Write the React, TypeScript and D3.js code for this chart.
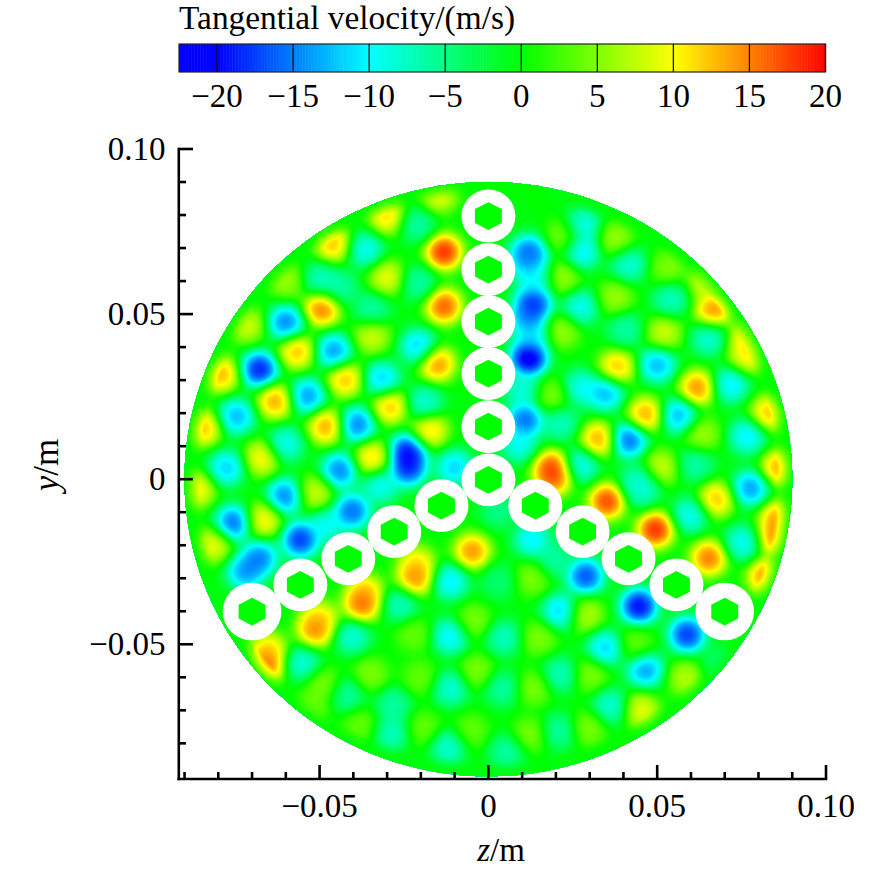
import React, { useMemo } from "react";
import * as d3 from "d3";

// Sampled extrema of the field: [z (mm), y (mm), velocity (m/s)]
const upperLeft: [number, number, number][] = [
  [-14.7,86,9],[-30,79.6,11],[-21.1,77.1,-6],[-13.2,68.8,18],[-45.9,71.1,12],[-36.5,69.5,-9],[-30,61,9],[-49.8,60.4,-7],[-43.9,57.9,-6],[-20.7,59.4,-6],[-59.7,60,6],[-49.3,51.7,15],[-13.2,52.4,16],[-34.5,51.4,-6],[-71.5,46.6,8],[-59.9,47.3,-14],[-34.5,43.3,8],[-20.7,40.2,-11],[-15.2,34.9,14],[-56.7,38.7,12],[-45.8,38.7,-13],[-67.8,33.2,-18],[-79.2,31.7,12.5],[-42.4,30.2,12],[-31.5,30.2,-11],[-63.1,23.6,13],[-53.6,25.1,-13],[-29.1,22.1,12],[-18.9,23.1,-8],[-74.7,19,-12],[-84.4,15.5,12],[-48.1,16,13],[-38.9,16.5,-14],[-17.4,14.8,11],[-60.2,10.5,-9],[-67.1,6.4,10],[-77.5,3.4,-11],[-34.5,6.4,11],[-23.8,8.4,-18],[-23.8,3.4,-17],[-44.1,2.6,-14],[-10,3.5,-11],
];
const lowerLeft: [number, number, number][] = [
  [-86.4,-3.2,10],[-60.2,-5.2,-14],[-51.3,-4.2,8],[-40.4,-9.7,-15],[-75.5,-13.3,-15],[-66.6,-12.3,10],[-55.7,-18.3,-17],[-81.4,-19.9,9],[-67.8,-23.9,-14],[-72,-28.1,-13],[-4.8,-21.9,14],[-21.6,-30,14],[-21.2,-25.4,10],[-11.3,-31,-10],[-37.5,-38,15],[-36.5,-34,11],[-26.1,-38,-7],[-51.3,-45.6,14],[-49.8,-42.1,10],[-40.4,-47.6,-8],[-11.3,-47.6,-10],[-65.1,-51.7,11],[-65.8,-56.7,15],[-55.2,-55.7,-8],[-22.1,-47.1,4],[-41.9,-65.3,-6],[-11.3,-63.3,-8],[-28.1,-68.3,-6],[-28.6,-76.9,-7],[-11.8,-81,-8],[-38,-74.4,4],[-20.2,-60.2,4],[-5.3,-76.4,4],[-3.4,-58.2,5],[-35,-59.2,5],[-48.8,-62.3,5],[-19.2,-75.4,4],[-52.3,-69.3,4],[-4.4,-43.1,5],[-48,-14,-9],[-32,-2,-9],
];
const upperRight: [number, number, number][] = [
  [12,68.5,-15],[12,65,-10],[13.4,53.4,-17],[12,48.8,-13],[12,36.7,-21],[11,18,-15],[9,10.5,-9],[22.3,73.6,5],[27.8,76.6,-9],[27.8,69,-10],[37.6,72.6,6],[21.8,61,6],[41.6,65,-8],[53,64,5],[37.6,55,6],[27.3,52,-9],[54,54.4,-7],[64.3,59.4,8],[66.6,51,14],[21.8,44.8,6],[40.6,45.3,-6],[52,44.3,8],[65.3,42.8,-8],[76.2,42.8,10],[76.7,37.2,10],[38.1,33.9,12],[50,34.7,-12],[61.9,27.6,14],[71.7,28.6,-10],[18.9,25.1,5],[27.3,27.6,-9],[34.7,26.1,-12],[83.1,20,12],[46.5,19.5,13],[56.4,19.3,-12],[21.3,17,-7],[32.5,12,13],[41.6,12,-15],[76.7,13,-10],[63.3,13.5,6],[18.9,3.4,16],[19.4,0.4,14],[27.3,4.4,-9],[61.4,4.4,-6],[51,3.4,8],[86.1,3.4,13],[77.7,-2.7,-13],[44.6,-0.6,-7],[14,60,-8],[13,43,-9],[10,27,-8],
];
const lowerRight: [number, number, number][] = [
  [35.2,-6.7,17],[45.5,-3.2,-7],[67.3,-6.2,12],[49.5,-15.3,18],[59.9,-10.8,-9],[85.6,-11.8,13],[85.1,-17.8,14],[75.2,-19.3,-9],[65.3,-23.9,15],[82.1,-29.4,14],[13,-18.3,-10],[3,-9.5,-5],[28.8,-29.4,-16],[44.6,-38.5,-19],[58.9,-47.1,-17],[21.3,-40,-11],[28.8,-41,7],[13,-30,5],[3,-31,-4],[19.4,-24.4,-6],[34.7,-51.2,-11],[43.6,-50.1,4],[46.5,-57.7,-13],[58.4,-60.2,7],[21.3,-59.2,-7],[14.9,-48.1,5],[4.5,-48.1,-7],[30.2,-59.2,5],[45.1,-69.9,9],[36.2,-68.8,-8],[13.4,-63.3,5],[4.1,-63.3,-6],[12.4,-77.4,5],[20.8,-76.4,-6],[29.7,-75.4,5],[5.5,-82.5,-6],[68.3,-56.2,-4],
];

// Rods: centre z, y (m), white radius (m)
const rodZ = [0,0,0,0,0,0,-0.0139,-0.0279,-0.0415,-0.0557,-0.07,0.0139,0.0279,0.0415,0.0557,0.07];
const rodY = [0.0797,0.0635,0.0477,0.032,0.0159,-0.0002,-0.008,-0.0159,-0.0241,-0.032,-0.0401,-0.008,-0.0159,-0.0241,-0.032,-0.0401];
const rodR = [0.008,0.008,0.008,0.008,0.008,0.008,0.008,0.008,0.008,0.008,0.0087,0.008,0.008,0.008,0.008,0.0087];

const xMajor = [-0.05, 0, 0.05, 0.1];
const xLabels = ["\u22120.05", "0", "0.05", "0.10"];
const yMajor = [-0.05, 0, 0.05, 0.1];
const yLabels = ["\u22120.05", "0", "0.05", "0.10"];
const minorTicks = [-0.09,-0.08,-0.07,-0.06,-0.04,-0.03,-0.02,-0.01,0.01,0.02,0.03,0.04,0.06,0.07,0.08,0.09];
const barTicks = [-20,-15,-10,-5,0,5,10,15,20];
const colorDomain = [-20,-10,0,10,20];
const colorRange = ["#0000ff","#00ffff","#00ff00","#ffff00","#ff0000"];

const FONT = "'Liberation Serif','Times New Roman',serif";
const DISK_R = 0.09;
const SIGMA = 3.1; // mm
const SOFT = 0.5;

export default function App() {
  const x = d3.scaleLinear().domain([-0.0917, 0.1]).range([178.8, 826]);
  const y = d3.scaleLinear().domain([-0.0908, 0.1]).range([779, 149]);
  const color = d3.scaleLinear<string>().domain(colorDomain).range(colorRange).interpolate(d3.interpolateRgb).clamp(true);
  const bar = d3.scaleLinear().domain([-22.5, 20]).range([179, 825.5]);
  const rim = d3.scaleLinear().domain([85.5, 90]).range([1, 0.15]).clamp(true);

  const bands = useMemo(() => {
    const blobs = [...upperLeft, ...lowerLeft, ...upperRight, ...lowerRight];
    const step = 0.6, min = -92;
    const n = Math.round(184 / step) + 1;
    const num = new Float64Array(n * n);
    const den = new Float64Array(n * n);
    const r = 5 * SIGMA, k = 1 / (2 * SIGMA * SIGMA);
    for (const [bz, by, v] of blobs) {
      const i0 = Math.max(0, Math.floor((bz - r - min) / step)), i1 = Math.min(n - 1, Math.ceil((bz + r - min) / step));
      const j0 = Math.max(0, Math.floor((by - r - min) / step)), j1 = Math.min(n - 1, Math.ceil((by + r - min) / step));
      for (let j = j0; j <= j1; j++) for (let i = i0; i <= i1; i++) {
        const dz = min + i * step - bz, dy = min + j * step - by;
        const w = Math.exp(-(dz * dz + dy * dy) * k);
        num[j * n + i] += v * w;
        den[j * n + i] += w;
      }
    }
    const values = Array.from(num, (a, idx) => {
      const gz = min + (idx % n) * step, gy = min + Math.floor(idx / n) * step;
      return ((a * (1 + SOFT)) / (den[idx] + SOFT)) * rim(Math.hypot(gz, gy));
    });
    const thresholds = d3.range(-24, 24.01, 0.5);
    const geo = d3.contours().size([n, n]).thresholds(thresholds)(values);
    const toX = (g: number) => x((min + (g - 0.5) * step) / 1000);
    const toY = (g: number) => y((min + (g - 0.5) * step) / 1000);
    const path = d3.geoPath(d3.geoTransform({ point(px, py) { (this as any).stream.point(toX(px), toY(py)); } }));
    return geo.filter((c) => c.coordinates.length).map((c) => ({ v: c.value, d: path(c) || "" }));
  }, []);

  const hex = (z: number, yy: number) => {
    const pts = d3.range(6).map((i) => {
      const a = (Math.PI / 3) * i;
      return [x(z + 0.0046 * Math.sin(a)), y(yy + 0.0042 * Math.cos(a))].join(",");
    });
    return pts.join(" ");
  };
  const barPixels = d3.range(-22.5, 20, 0.1);
  const axisW = 2.6;

  return (
    <svg width={886} height={872} style={{ position: "absolute", left: 0, top: 0, background: "#fff" }} fontFamily={FONT}>
      <defs>
        <clipPath id="disk">
          <ellipse cx={x(0)} cy={y(0)} rx={x(DISK_R) - x(0)} ry={y(0) - y(DISK_R)} />
        </clipPath>
      </defs>
      <text x={179} y={29} fontSize={33.4}>Tangential velocity/(m/s)</text>
      {barPixels.map((v) => (
        <rect key={v} x={bar(v)} y={44} width={bar(v + 0.1) - bar(v) + 0.5} height={28} fill={color(v)} />
      ))}
      <rect x={179} y={44} width={646.5} height={28} fill="none" stroke="#222" strokeWidth={1.2} />
      {barTicks.map((t) => (
        <g key={t}>
          <line x1={bar(t)} x2={bar(t)} y1={44} y2={72} stroke="#111" strokeWidth={1.3} />
          <text x={bar(t)} y={107} fontSize={33} textAnchor="middle">{t < 0 ? `\u2212${-t}` : t}</text>
        </g>
      ))}

      <g clipPath="url(#disk)">
        <rect x={170} y={170} width={640} height={620} fill={color(-24)} />
        {bands.map((b) => (
          <path key={b.v} d={b.d} fill={color(b.v)} />
        ))}
      </g>
      {rodZ.map((z, i) => (
        <ellipse key={i} cx={x(z)} cy={y(rodY[i])} rx={x(rodR[i]) - x(0)} ry={y(0) - y(rodR[i])} fill="#fff" />
      ))}
      {rodZ.map((z, i) => (
        <polygon key={i} points={hex(z, rodY[i])} fill="#00ff00" />
      ))}

      <g stroke="#000" strokeWidth={axisW} fill="none">
        <line x1={x.range()[0]} x2={x.range()[0]} y1={147.7} y2={780.3} />
        <line x1={177.5} x2={827.2} y1={779} y2={779} />
        {xMajor.map((t) => <line key={t} x1={x(t)} x2={x(t)} y1={779} y2={765} />)}
        {yMajor.map((t) => <line key={t} x1={178.8} x2={193} y1={y(t)} y2={y(t)} />)}
        {minorTicks.map((t) => <line key={t} x1={x(t)} x2={x(t)} y1={779} y2={772} />)}
        {minorTicks.filter((t) => t > -0.09).map((t) => <line key={t} x1={178.8} x2={186} y1={y(t)} y2={y(t)} />)}
      </g>
      {xMajor.map((t, i) => (
        <text key={t} x={x(t)} y={817} fontSize={33} textAnchor="middle">{xLabels[i]}</text>
      ))}
      {yMajor.map((t, i) => (
        <text key={t} x={165.5} y={y(t) + 11} fontSize={33} textAnchor="end">{yLabels[i]}</text>
      ))}
      <text x={501} y={861} fontSize={33} textAnchor="middle"><tspan fontStyle="italic">z</tspan>/m</text>
      <text transform="translate(58,465) rotate(-90)" fontSize={35} textAnchor="middle"><tspan fontStyle="italic">y</tspan>/m</text>
    </svg>
  );
}
